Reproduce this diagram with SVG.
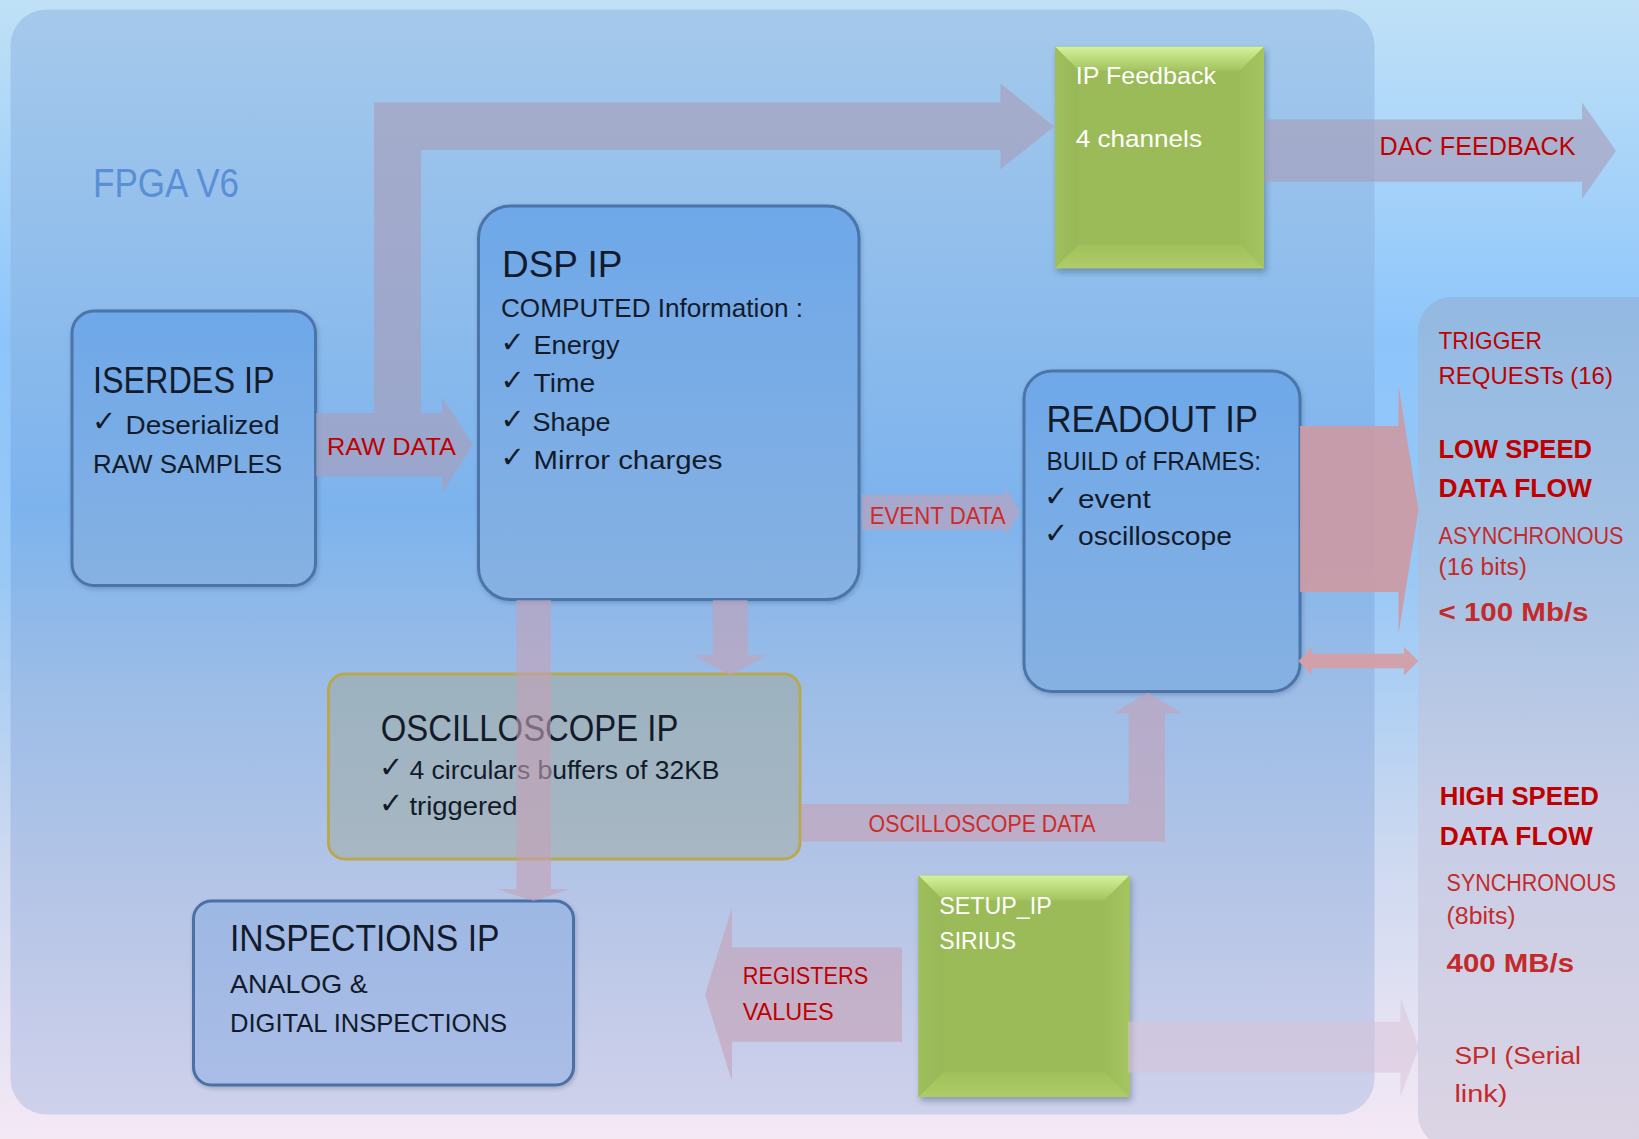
<svg xmlns="http://www.w3.org/2000/svg" width="1639" height="1139" viewBox="0 0 1639 1139">
<defs>
<linearGradient id="bg" x1="0" y1="0" x2="0" y2="1">
<stop offset="0" stop-color="#c0e1f7"/>
<stop offset="0.3" stop-color="#8dc5fb"/>
<stop offset="0.5" stop-color="#98c8f6"/>
<stop offset="0.75" stop-color="#cdd9f0"/>
<stop offset="1" stop-color="#f4e8f5"/>
</linearGradient>
<linearGradient id="fpga" x1="0" y1="0" x2="0" y2="1">
<stop offset="0" stop-color="#a5c9eb"/>
<stop offset="0.45" stop-color="#7db3ed"/>
<stop offset="0.62" stop-color="#9dbde7"/>
<stop offset="0.82" stop-color="#b8c6e7"/>
<stop offset="1" stop-color="#cfd1eb"/>
</linearGradient>
<linearGradient id="side" x1="0" y1="0" x2="0" y2="1">
<stop offset="0" stop-color="#93b9e2"/>
<stop offset="0.3" stop-color="#a3c1e4"/>
<stop offset="0.6" stop-color="#c6cde6"/>
<stop offset="1" stop-color="#dcd4e4"/>
</linearGradient>
<linearGradient id="boxBlue" x1="0" y1="0" x2="0" y2="1">
<stop offset="0" stop-color="#6ea8e9"/>
<stop offset="1" stop-color="#86b1e2"/>
</linearGradient>
<linearGradient id="boxInsp" x1="0" y1="0" x2="0" y2="1">
<stop offset="0" stop-color="#9db8e4"/>
<stop offset="1" stop-color="#aabde6"/>
</linearGradient>
<linearGradient id="boxOsc" x1="0" y1="0" x2="0" y2="1">
<stop offset="0" stop-color="#9cb2bf"/>
<stop offset="1" stop-color="#a8b7c4"/>
</linearGradient>
<linearGradient id="bevTop" x1="0" y1="0" x2="0" y2="1">
<stop offset="0" stop-color="#d4f29a"/>
<stop offset="1" stop-color="#a3c25f"/>
</linearGradient>
<linearGradient id="bevBot" x1="0" y1="0" x2="0" y2="1">
<stop offset="0" stop-color="#a0c05c"/>
<stop offset="1" stop-color="#aecd69"/>
</linearGradient>
<linearGradient id="bevL" x1="0" y1="0" x2="1" y2="0">
<stop offset="0" stop-color="#9fbe5c"/>
<stop offset="1" stop-color="#98b757"/>
</linearGradient>
<linearGradient id="bevR" x1="0" y1="0" x2="1" y2="0">
<stop offset="0" stop-color="#9cbb5a"/>
<stop offset="1" stop-color="#a5c561"/>
</linearGradient>
<filter id="shadow" x="-10%" y="-10%" width="130%" height="130%">
<feDropShadow dx="2" dy="4" stdDeviation="3" flood-color="#203040" flood-opacity="0.35"/>
</filter>
<filter id="soft" x="-5%" y="-5%" width="110%" height="115%">
<feDropShadow dx="1" dy="2" stdDeviation="2" flood-color="#203050" flood-opacity="0.25"/>
</filter>
</defs>
<style>
text { font-family: "Liberation Sans", Arial, sans-serif; }
.ttl { font-size: 37px; fill: #131b2b; }
.bd { font-size: 26px; fill: #131b2b; }
.chk { font-family: "DejaVu Sans", sans-serif; font-size: 29px; fill: #131b2b; }
.wt { font-size: 24.5px; fill: #ffffff; }
.red { fill: #c00000; font-size: 24.5px; }
.red2 { fill: #c52a2a; font-size: 23px; }
.redb { fill: #c00000; font-size: 26.5px; font-weight: bold; }
.redb2 { fill: #c42a2a; font-size: 26.5px; font-weight: bold; }
.lbl { fill: #cf2a2a; font-size: 23px; }
.blue { stroke: #4b74a8; stroke-width: 3; }
.arr { fill: #aa9cb8; opacity: 0.62; }
.arrp { fill: #c4a0b6; opacity: 0.6; }
</style>

<rect x="0" y="0" width="1639" height="1139" fill="url(#bg)"/>

<g id="fpga-panel">
<rect x="10.5" y="9.5" width="1364" height="1105" rx="36" fill="url(#fpga)"/>
<text x="93" y="197" font-size="40" fill="#5a8fd6" textLength="146" lengthAdjust="spacingAndGlyphs">FPGA V6</text>
</g>

<g id="side-panel">
<rect x="1418" y="297" width="260" height="851" rx="34" fill="url(#side)"/>
<text class="red" x="1438.5" y="349.3" textLength="103.4" lengthAdjust="spacingAndGlyphs">TRIGGER</text>
<text class="red" x="1438.5" y="384" textLength="174.4" lengthAdjust="spacingAndGlyphs">REQUESTs (16)</text>
<text class="redb" x="1438.5" y="458.3" textLength="153.4" lengthAdjust="spacingAndGlyphs">LOW SPEED</text>
<text class="redb" x="1438.5" y="496.7" textLength="153.3" lengthAdjust="spacingAndGlyphs">DATA FLOW</text>
<text class="red2" x="1438.5" y="544.3" font-size="22.5" textLength="185" lengthAdjust="spacingAndGlyphs">ASYNCHRONOUS</text>
<text class="red2" x="1438.5" y="575" font-size="24.5" textLength="88.3" lengthAdjust="spacingAndGlyphs">(16 bits)</text>
<text class="redb2" x="1438.5" y="620.7" textLength="150" lengthAdjust="spacingAndGlyphs">&lt; 100 Mb/s</text>
<text class="redb" x="1439.8" y="805" textLength="159" lengthAdjust="spacingAndGlyphs">HIGH SPEED</text>
<text class="redb" x="1439.8" y="844.7" textLength="153" lengthAdjust="spacingAndGlyphs">DATA FLOW</text>
<text class="red2" x="1446.6" y="891" textLength="169.4" lengthAdjust="spacingAndGlyphs">SYNCHRONOUS</text>
<text class="red2" x="1446.6" y="923.8" font-size="24.5" textLength="69" lengthAdjust="spacingAndGlyphs">(8bits)</text>
<text class="redb2" x="1446.6" y="972" textLength="127.4" lengthAdjust="spacingAndGlyphs">400 MB/s</text>
<text class="red2" x="1454.4" y="1063.5" font-size="26" textLength="126.6" lengthAdjust="spacingAndGlyphs">SPI (Serial</text>
<text class="red2" x="1454.4" y="1101.6" font-size="26" textLength="53" lengthAdjust="spacingAndGlyphs">link)</text>
</g>

<g id="iserdes-ip">
<rect class="blue" x="72" y="311" width="243.5" height="274.5" rx="22" fill="url(#boxBlue)" filter="url(#soft)"/>
<text class="ttl" x="93" y="393" font-size="38" textLength="181.5" lengthAdjust="spacingAndGlyphs">ISERDES IP</text>
<text class="chk" x="92" y="431">✓</text>
<text class="bd" x="125.5" y="434" textLength="154" lengthAdjust="spacingAndGlyphs">Deserialized</text>
<text class="bd" x="93" y="473" textLength="189" lengthAdjust="spacingAndGlyphs">RAW SAMPLES</text>
</g>

<g id="dsp-ip">
<rect class="blue" x="478.5" y="206" width="380.5" height="393.5" rx="32" fill="url(#boxBlue)" filter="url(#soft)"/>
<text class="ttl" x="502" y="276.7" font-size="42" textLength="120.4" lengthAdjust="spacingAndGlyphs">DSP IP</text>
<text class="bd" x="501" y="317" textLength="302" lengthAdjust="spacingAndGlyphs">COMPUTED Information :</text>
<text class="chk" x="500.5" y="352">✓</text>
<text class="bd" x="533.5" y="354" textLength="86" lengthAdjust="spacingAndGlyphs">Energy</text>
<text class="chk" x="500.5" y="390">✓</text>
<text class="bd" x="533.5" y="392" textLength="61.7" lengthAdjust="spacingAndGlyphs">Time</text>
<text class="chk" x="500.5" y="429">✓</text>
<text class="bd" x="532.5" y="431" textLength="78" lengthAdjust="spacingAndGlyphs">Shape</text>
<text class="chk" x="500.5" y="467">✓</text>
<text class="bd" x="533.5" y="469" textLength="189" lengthAdjust="spacingAndGlyphs">Mirror charges</text>
</g>

<g id="readout-ip">
<rect class="blue" x="1024" y="371" width="276" height="320.5" rx="28" fill="url(#boxBlue)" filter="url(#soft)"/>
<text class="ttl" x="1046.5" y="431.7" font-size="36.5" textLength="211.5" lengthAdjust="spacingAndGlyphs">READOUT IP</text>
<text class="bd" x="1046.5" y="470" textLength="214.5" lengthAdjust="spacingAndGlyphs">BUILD of FRAMES:</text>
<text class="chk" x="1044" y="506">✓</text>
<text class="bd" x="1078" y="508" textLength="72.7" lengthAdjust="spacingAndGlyphs">event</text>
<text class="chk" x="1044" y="543">✓</text>
<text class="bd" x="1078" y="545" textLength="154" lengthAdjust="spacingAndGlyphs">oscilloscope</text>
</g>

<g id="oscilloscope-ip">
<rect x="328.5" y="674" width="471.5" height="185" rx="16" fill="url(#boxOsc)" stroke="#b9a852" stroke-width="3"/>
<text class="ttl" x="380.8" y="740.5" font-size="36.3" fill="#1e1e16" textLength="297.5" lengthAdjust="spacingAndGlyphs">OSCILLOSCOPE IP</text>
<text class="chk" x="379" y="777" font-size="26" fill="#1e1e16">✓</text>
<text class="bd" x="409.5" y="779.4" fill="#1e1e16" textLength="310" lengthAdjust="spacingAndGlyphs">4 circulars buffers of 32KB</text>
<text class="chk" x="379" y="813" font-size="26" fill="#1e1e16">✓</text>
<text class="bd" x="409.5" y="815" fill="#1e1e16" textLength="108" lengthAdjust="spacingAndGlyphs">triggered</text>
</g>

<g id="inspections-ip">
<rect x="193.5" y="901" width="380" height="184" rx="18" fill="url(#boxInsp)" stroke="#4b6fa4" stroke-width="3" filter="url(#soft)"/>
<text class="ttl" x="230" y="951" font-size="35.5" textLength="269.5" lengthAdjust="spacingAndGlyphs">INSPECTIONS IP</text>
<text class="bd" x="230" y="992.7" font-size="25.3" textLength="137.7" lengthAdjust="spacingAndGlyphs">ANALOG &amp;</text>
<text class="bd" x="230" y="1031.5" font-size="25.3" textLength="277" lengthAdjust="spacingAndGlyphs">DIGITAL INSPECTIONS</text>
</g>

<g id="ip-feedback">
<rect x="1055" y="46.7" width="209" height="221.5" fill="#9bbb59" filter="url(#shadow)"/>
<polygon points="1055,46.7 1264,46.7 1240,70.7 1079,70.7" fill="url(#bevTop)"/>
<polygon points="1055,46.7 1079,70.7 1079,244.2 1055,268.2" fill="url(#bevL)"/>
<polygon points="1264,46.7 1264,268.2 1240,244.2 1240,70.7" fill="url(#bevR)"/>
<polygon points="1055,268.2 1079,244.2 1240,244.2 1264,268.2" fill="url(#bevBot)"/>
<text class="wt" x="1075.7" y="84" textLength="140.3" lengthAdjust="spacingAndGlyphs">IP Feedback</text>
<text class="wt" x="1075.7" y="146.7" textLength="126.3" lengthAdjust="spacingAndGlyphs">4 channels</text>
</g>

<g id="setup-ip">
<rect x="918.5" y="875.5" width="211" height="221.5" fill="#9bbb59" filter="url(#shadow)"/>
<polygon points="918.5,875.5 1129.5,875.5 1104.5,900.5 943.5,900.5" fill="url(#bevTop)"/>
<polygon points="918.5,875.5 943.5,900.5 943.5,1072 918.5,1097" fill="url(#bevL)"/>
<polygon points="1129.5,875.5 1129.5,1097 1104.5,1072 1104.5,900.5" fill="url(#bevR)"/>
<polygon points="918.5,1097 943.5,1072 1104.5,1072 1129.5,1097" fill="url(#bevBot)"/>
<text class="wt" x="939.3" y="914" font-size="25" textLength="112.4" lengthAdjust="spacingAndGlyphs">SETUP_IP</text>
<text class="wt" x="939.3" y="949.3" font-size="25" textLength="76.7" lengthAdjust="spacingAndGlyphs">SIRIUS</text>
</g>

<g id="connectors">
<path class="arr" d="M374,413 L374,102.6 L1000.4,102.6 L1000.4,83.4 L1054,126.4 L1000.4,169.5 L1000.4,150 L421,150 L421,413 Z"/>
<path class="arr" d="M316,413 L442,413 L442,397 L473,444.8 L442,493 L442,476.5 L316,476.5 Z"/>
<path class="arr" d="M1265,119.4 L1582,119.4 L1582,102.6 L1616,150.8 L1582,199 L1582,181.8 L1265,181.8 Z"/>
<path class="arrp" d="M862,494.4 L1005.7,494.4 L1005.7,487 L1020,512 L1005.7,536 L1005.7,530 L862,530 Z"/>
<path fill="#cc9aa4" opacity="0.92" d="M1300,426 L1398.5,426 L1398.5,386 L1418.5,510 L1398.5,634 L1398.5,592 L1300,592 Z"/>
<path fill="#d39fa7" opacity="0.95" d="M1298.3,661 L1312.3,646.7 L1312.3,653.8 L1404,653.8 L1404,646.7 L1418.3,661 L1404,675.5 L1404,668.3 L1312.3,668.3 L1312.3,675.5 Z"/>
<path class="arrp" d="M516.5,600 L551,600 L551,889.3 L569,889.3 L533.7,901 L497,889.3 L516.5,889.3 Z"/>
<path class="arrp" d="M712.8,600 L747.5,600 L747.5,655.3 L766.7,655.3 L730,675.5 L693.5,655.3 L712.8,655.3 Z"/>
<path class="arrp" d="M801.5,804 L1128.6,804 L1128.6,713.3 L1113,713.3 L1147.5,692.6 L1182,713.3 L1165,713.3 L1165,841.4 L801.5,841.4 Z"/>
<path class="arrp" d="M902,947.4 L732,947.4 L732,907.4 L705,994.5 L732,1081.6 L732,1041.7 L902,1041.7 Z"/>
<path fill="#d8c2d6" opacity="0.5" d="M1128,1021.7 L1400.5,1021.7 L1400.5,998 L1419,1047.2 L1400.5,1096 L1400.5,1072.5 L1128,1072.5 Z"/>
<text x="327" y="455.4" fill="#c00000" font-size="24.3" textLength="129" lengthAdjust="spacingAndGlyphs">RAW DATA</text>
<text x="1379.6" y="155" fill="#c00000" font-size="25" textLength="196" lengthAdjust="spacingAndGlyphs">DAC FEEDBACK</text>
<text class="lbl" x="869.7" y="523.5" textLength="136" lengthAdjust="spacingAndGlyphs">EVENT DATA</text>
<text class="lbl" x="868.6" y="832.3" font-size="22.5" textLength="227" lengthAdjust="spacingAndGlyphs">OSCILLOSCOPE DATA</text>
<text x="742.7" y="983.6" fill="#c00000" font-size="24.3" textLength="125.6" lengthAdjust="spacingAndGlyphs">REGISTERS</text>
<text x="742.7" y="1020" fill="#c00000" font-size="24.3" textLength="91" lengthAdjust="spacingAndGlyphs">VALUES</text>
</g>
</svg>
